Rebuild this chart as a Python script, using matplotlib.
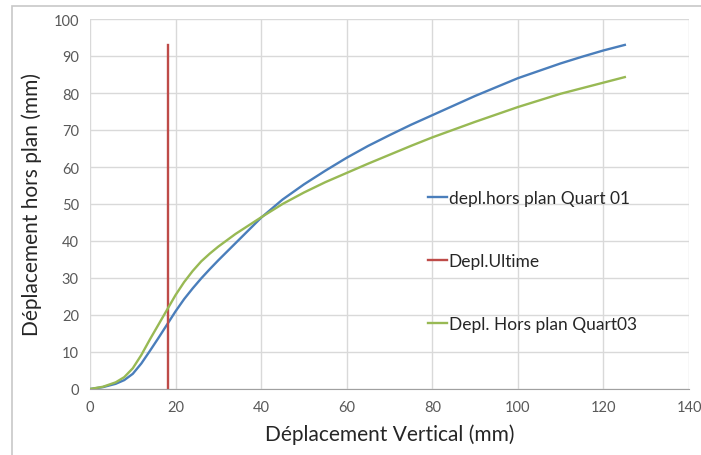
import matplotlib.pyplot as plt
from matplotlib.patches import Rectangle

plt.rcParams['font.family'] = ['Lato', 'DejaVu Sans']

# Courbes
x_q01 = [0, 3, 6, 8, 10, 12, 14, 16, 18, 20, 22, 24, 26, 28, 30, 32, 34, 36, 38, 40,
         45, 50, 55, 60, 65, 70, 75, 80, 85, 90, 95, 100, 105, 110, 115, 120, 125]
y_q01 = [0, 0.5, 1.4, 2.4, 4.1, 6.9, 10.3, 13.8, 17.4, 21, 24.3, 27.2, 29.9, 32.4, 34.8, 37.1, 39.4, 41.7, 44, 46.3,
         51.2, 55.3, 59, 62.5, 65.7, 68.6, 71.4, 74, 76.6, 79.2, 81.6, 84, 86, 88, 89.8, 91.5, 93]
x_q03 = [0, 3, 6, 8, 10, 12, 14, 16, 18, 20, 22, 24, 26, 28, 30, 32, 34, 36, 38, 40,
         45, 50, 55, 60, 65, 70, 75, 80, 85, 90, 95, 100, 105, 110, 115, 120, 125]
y_q03 = [0, 0.6, 1.8, 3.2, 5.6, 9.2, 13.4, 17.4, 21.4, 25.4, 28.9, 31.9, 34.5, 36.6, 38.5, 40.2, 41.9, 43.4, 44.9, 46.4,
         50, 53.1, 55.9, 58.4, 60.9, 63.3, 65.7, 68, 70.1, 72.2, 74.2, 76.2, 78, 79.8, 81.3, 82.8, 84.3]
x_ult = [18.2, 18.2]
y_ult = [0, 93]

labels = ["depl.hors plan Quart 01", "Depl.Ultime", "Depl. Hors plan Quart03"]
colors = ["#4a7ebb", "#be4b48", "#98b954"]

fig = plt.figure(figsize=(7.01, 4.56), dpi=100)
fig.patches.append(Rectangle((12 / 701, -0.1), 1.2, 1.1 - 7 / 456, transform=fig.transFigure,
                             fill=False, edgecolor="#c8c8c8", linewidth=1.2))
ax = fig.add_axes([90 / 701, 66 / 456, 599 / 701, 370 / 456])

ax.plot(x_q01, y_q01, color=colors[0], lw=1.7, label=labels[0])
ax.plot(x_ult, y_ult, color=colors[1], lw=1.7, label=labels[1])
ax.plot(x_q03, y_q03, color=colors[2], lw=1.7, label=labels[2])

ax.set_xlim(0, 140)
ax.set_ylim(0, 100)
ax.set_xticks(range(0, 141, 20))
ax.set_yticks(range(0, 101, 10))
ax.grid(True, color="#d9d9d9", lw=1)
ax.set_axisbelow(True)
for s in ["top", "right", "left"]:
    ax.spines[s].set_visible(False)
ax.spines["bottom"].set_color("#a0a0a0")
ax.tick_params(length=0, labelsize=10.5, colors="#595959", pad=8)

ax.set_xlabel("Déplacement Vertical (mm)", fontsize=15, color="#262626", labelpad=7)
ax.set_ylabel("Déplacement hors plan (mm)", fontsize=15, color="#262626", labelpad=8)

leg = ax.legend(loc="upper left", bbox_to_anchor=(338 / 599, 199 / 370),
                frameon=False, fontsize=12.5, handlelength=1.1, handletextpad=0.1,
                labelspacing=2.72, borderaxespad=0, borderpad=0)
for t in leg.get_texts():
    t.set_color("#262626")

fig.savefig("out.png", dpi=100)
